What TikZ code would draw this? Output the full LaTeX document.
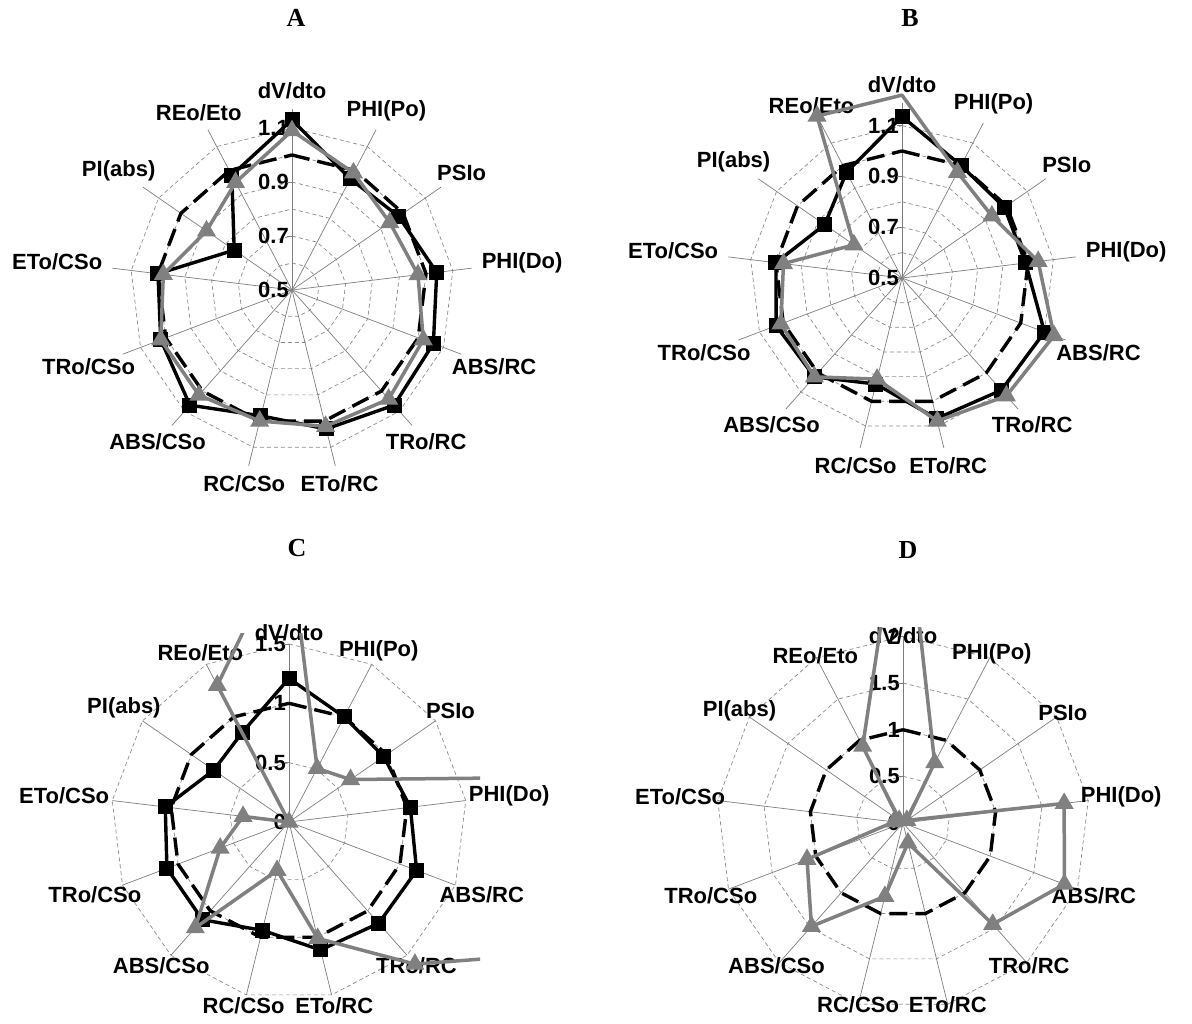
\documentclass[tikz,border=0pt]{standalone}
\usepackage{fontspec}
\setmainfont{Liberation Serif}
\newfontfamily\labfont{Liberation Sans}
\usetikzlibrary{shapes.geometric}
\definecolor{sergray}{RGB}{128,128,128}
\definecolor{gridgray}{RGB}{140,140,140}
\newcommand\Pc[5]{{#1+#3*(#4)*cos(90-(#5)*360/13)},{#2-#3*(#4)*sin(90-(#5)*360/13)}}
\newcommand\mkpts[6]{\foreach \v [count=\n from 0] in {#6} {\coordinate (#1-\n) at (\Pc{#2}{#3}{#4}{\v-#5}{\n});}}
\newcommand\ser[2]{\draw[#2] (#1-0) \foreach \n in {1,...,12}{-- (#1-\n)} -- cycle;}
\newcommand\radarframe[9]{%
  \foreach \r in {#6} {\draw[ringline] (\Pc{#2}{#3}{#4}{\r-#5}{0}) \foreach \n in {1,...,12}{-- (\Pc{#2}{#3}{#4}{\r-#5}{\n})} -- cycle;}
  \coordinate (#1-c) at (#2,#3);
  \foreach \n in {0,...,12} {\coordinate (#1-ax\n) at (\Pc{#2}{#3}{1}{#7}{\n}); \draw[axisline] (#1-c) -- (#1-ax\n);}
  \foreach \t in {#8} {\node[ticklab] at ({#2-2},{#3-#4*(\t-#5)}) {\t}; \draw[axisline] ({#2-5},{#3-#4*(\t-#5)}) -- ({#2},{#3-#4*(\t-#5)});}
  \foreach \l [count=\n from 0] in {dV/dto,PHI(Po),PSIo,PHI(Do),ABS/RC,TRo/RC,ETo/RC,RC/CSo,ABS/CSo,TRo/CSo,ETo/CSo,PI(abs),REo/Eto} {%
    \pgfmathsetmacro\an{270-\n*360/13}
    \node[axlab,anchor=\an] (#1-lab\n) at (\Pc{#2}{#3}{1}{#9}{\n}) {\l};}
  \mkpts{#1-ref}{#2}{#3}{#4}{#5}{1,1,1,1,1,1,1,1,1,1,1,1,1}
  \ser{#1-ref}{refline}
}
\tikzset{
  ringline/.style={gridgray,line width=0.7pt,dash pattern=on 4pt off 3pt},
  axisline/.style={gridgray!90!black,line width=0.7pt},
  ticklab/.style={anchor=east,font=\labfont\bfseries\fontsize{22}{24}\selectfont,inner sep=1pt},
  axlab/.style={font=\labfont\bfseries\fontsize{22}{24}\selectfont,inner sep=1pt},
  refline/.style={black,line width=3.4pt,dash pattern=on 18pt off 8pt},
  blkline/.style={black,line width=3.4pt,line join=round},
  gryline/.style={sergray,line width=3.5pt,line join=round},
  sq/.style={fill=black,minimum size=15pt,inner sep=0pt},
  tri/.style={regular polygon,regular polygon sides=3,fill=sergray,minimum size=22pt,inner sep=0pt},
  ttl/.style={font=\bfseries\fontsize{26}{28}\selectfont}
}
\begin{document}
\begin{tikzpicture}[x=1pt,y=-1pt]
\useasboundingbox[fill=white] (0,0) rectangle (1192,1024);
\node[ttl] (tA) at (296,18) {A};
\node[ttl] (tB) at (910,18) {B};
\node[ttl] (tC) at (297,548) {C};
\node[ttl] (tD) at (908,550) {D};
% A
\radarframe{A}{292}{290}{270}{0.5}{0.6,0.7,0.8,0.9,1.0,1.1}{181}{0.5,0.7,0.9,1.1}{190}
\mkpts{A-b}{292}{290}{270}{0.5}{1.13,0.965,0.98,1.04,1.06,1.07,1.03,0.98,1.07,1.02,1.0,0.76,0.98}
\mkpts{A-g}{292}{290}{270}{0.5}{1.09,0.99,0.94,0.97,1.02,1.04,1.02,1.0,1.02,1.02,0.98,0.885,0.95}
\ser{A-b}{blkline}
\foreach \n in {0,...,12} \node[sq] at (A-b-\n) {};
\ser{A-g}{gryline}
\foreach \n in {0,...,12} \node[tri] at (A-g-\n) {};
% B
\radarframe{B}{902}{278}{254}{0.5}{0.6,0.7,0.8,0.9,1.0,1.1}{175}{0.5,0.7,0.9,1.1}{184}
\mkpts{B-b}{902}{278}{254}{0.5}{1.136,1.0,0.99,0.99,1.10,1.09,1.07,0.93,1.02,1.03,1.0,0.87,0.97}
\mkpts{B-g}{902}{278}{254}{0.5}{1.22,0.97,0.93,1.04,1.14,1.12,1.08,0.91,1.02,1.01,0.97,0.73,1.22}
\ser{B-b}{blkline}
\foreach \n in {0,...,12} \node[sq] at (B-b-\n) {};
\ser{B-g}{gryline}
\foreach \n in {1,...,12} \node[tri] at (B-g-\n) {};
% C
\radarframe{C}{289}{822}{118.7}{0}{0.5,1.0,1.5}{178}{0,0.5,1,1.5}{180}
\mkpts{C-b}{289}{822}{118.7}{0}{1.21,1.0,0.97,1.03,1.15,1.14,1.11,0.94,1.10,1.10,1.05,0.77,0.85}
\mkpts{C-g}{289}{822}{118.7}{0}{2.4,0.51,0.63,3.2,3.0,1.6,1.01,0.42,1.19,0.62,0.39,0,1.30}
\ser{C-b}{blkline}
\foreach \n in {0,...,12} \node[sq] at (C-b-\n) {};
\begin{scope}
\clip (60,633) rectangle (480,1024);
\ser{C-g}{gryline}
\foreach \n in {0,...,12} \node[tri] at (C-g-\n) {};
\end{scope}
% D
\radarframe{D}{903}{823}{93.3}{0}{0.5,1.0,1.5,2.0}{187}{0,0.5,1,1.5,2}{178}
\mkpts{D-g}{903}{823}{93.3}{0}{3.7,0.73,0.05,1.74,1.85,1.45,0.22,0.81,1.48,1.10,0.1,0.05,0.93}
\begin{scope}
\clip (640,627) rectangle (1192,1024);
\ser{D-g}{gryline}
\foreach \n in {0,...,12} \node[tri] at (D-g-\n) {};
\end{scope}
\end{tikzpicture}
\end{document}
